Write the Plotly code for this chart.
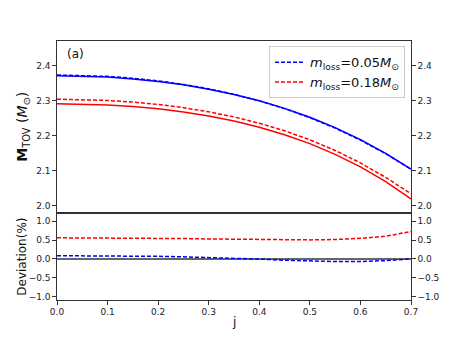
import plotly.graph_objects as go

# spin parameter j
j = [0.0, 0.05, 0.10, 0.15, 0.20, 0.25, 0.30, 0.35, 0.40, 0.45, 0.50, 0.55, 0.60, 0.65, 0.70]

# M_TOV, solid (full) and dashed (with mass loss)
m_blue_solid = [2.372, 2.371, 2.368, 2.3628, 2.3555, 2.3458, 2.3335, 2.3184, 2.3002, 2.2787,
                2.2533, 2.2237, 2.1895, 2.1501, 2.1050]
m_blue_dash = [2.374, 2.373, 2.370, 2.3646, 2.3571, 2.3471, 2.3344, 2.3188, 2.3001, 2.2779,
               2.2520, 2.2221, 2.1880, 2.1491, 2.1050]
m_red_solid = [2.292, 2.2911, 2.2884, 2.2838, 2.2772, 2.2683, 2.2568, 2.2425, 2.2249, 2.2035,
               2.1779, 2.1474, 2.1114, 2.0692, 2.0200]
m_red_dash = [2.3048, 2.3039, 2.3012, 2.2965, 2.2897, 2.2806, 2.2688, 2.2542, 2.2363, 2.2146,
              2.1889, 2.1585, 2.1229, 2.0816, 2.0347]

# deviation in %
dev_blue = [0.085, 0.085, 0.083, 0.078, 0.068, 0.055, 0.038, 0.018, -0.005, -0.035,
            -0.058, -0.070, -0.068, -0.045, 0.0]
dev_red = [0.56, 0.56, 0.56, 0.555, 0.55, 0.54, 0.53, 0.52, 0.51, 0.505,
           0.505, 0.515, 0.545, 0.60, 0.73]

top_ticks = [2.0, 2.1, 2.2, 2.3, 2.4]
bot_ticks = [-1.0, -0.5, 0.0, 0.5, 1.0]
bot_labels = ["\u22121.0", "\u22120.5", "0.0", "0.5", "1.0"]
x_ticks = [0.0, 0.1, 0.2, 0.3, 0.4, 0.5, 0.6, 0.7]

BLUE = "#0000ff"
RED = "#ff0000"
DASH = "4px,2px"
lbl_blue = "<i>m</i><sub>loss</sub>=0.05<i>M</i><sub>\u2299</sub>"
lbl_red = "<i>m</i><sub>loss</sub>=0.18<i>M</i><sub>\u2299</sub>"

fig = go.Figure()

# top panel
fig.add_trace(go.Scatter(x=j, y=m_blue_solid, mode="lines", line=dict(color=BLUE, width=1.5),
                         showlegend=False, xaxis="x", yaxis="y"))
fig.add_trace(go.Scatter(x=j, y=m_red_solid, mode="lines", line=dict(color=RED, width=1.5),
                         showlegend=False, xaxis="x", yaxis="y"))
fig.add_trace(go.Scatter(x=j, y=m_blue_dash, mode="lines", line=dict(color=BLUE, width=1.5, dash=DASH),
                         name=lbl_blue, xaxis="x", yaxis="y"))
fig.add_trace(go.Scatter(x=j, y=m_red_dash, mode="lines", line=dict(color=RED, width=1.5, dash=DASH),
                         name=lbl_red, xaxis="x", yaxis="y"))
# invisible trace so the right-hand axis gets drawn
fig.add_trace(go.Scatter(x=j, y=m_blue_solid, mode="lines", line=dict(width=0), opacity=0,
                         showlegend=False, hoverinfo="skip", xaxis="x", yaxis="y2"))

# bottom panel
fig.add_trace(go.Scatter(x=j, y=dev_red, mode="lines", line=dict(color=RED, width=1.5, dash=DASH),
                         showlegend=False, xaxis="x2", yaxis="y3"))
fig.add_trace(go.Scatter(x=j, y=dev_blue, mode="lines", line=dict(color=BLUE, width=1.5, dash=DASH),
                         showlegend=False, xaxis="x2", yaxis="y3"))
fig.add_trace(go.Scatter(x=j, y=dev_blue, mode="lines", line=dict(width=0), opacity=0,
                         showlegend=False, hoverinfo="skip", xaxis="x2", yaxis="y4"))

# zero line in the deviation panel
fig.add_shape(type="line", xref="x2 domain", yref="y3", x0=0, x1=1, y0=0, y1=0,
              line=dict(color="#333333", width=1.5), layer="below")

split = 0.3347
axcol = "#333333"
tickfont = dict(size=9, color="#222222")

yax = dict(showgrid=False, zeroline=False, showline=True, linecolor=axcol, linewidth=1.2,
           ticks="outside", ticklen=3.5, tickwidth=1, tickcolor=axcol, tickfont=tickfont)

# page body has an 8px margin, so the figure is drawn 8px in from the corner
fig.update_layout(
    width=449, height=335, autosize=False,
    margin=dict(l=49, r=46, t=33, b=43),
    plot_bgcolor="white", paper_bgcolor="white",
    font=dict(family="DejaVu Sans", color="#111111"),
    xaxis=dict(domain=[0, 1], anchor="y", range=[0, 0.7], showgrid=False, zeroline=False,
               showline=True, mirror=True, linecolor=axcol, linewidth=1.2,
               showticklabels=False, ticks=""),
    xaxis2=dict(domain=[0, 1], anchor="y3", range=[0, 0.7], showgrid=False, zeroline=False,
                showline=True, mirror=True, linecolor=axcol, linewidth=1.2,
                tickvals=x_ticks, ticktext=[f"{v:.1f}" for v in x_ticks],
                ticks="outside", ticklen=3.5, tickwidth=1, tickcolor=axcol, tickfont=tickfont),
    yaxis=dict(domain=[split, 1], anchor="x", range=[1.979, 2.471], side="left",
               tickvals=top_ticks, ticktext=[f"{v:.1f}" for v in top_ticks], **yax),
    yaxis2=dict(overlaying="y", anchor="x", range=[1.979, 2.471], side="right",
                tickvals=top_ticks, ticktext=[f"{v:.1f}" for v in top_ticks], **yax),
    yaxis3=dict(domain=[0, split], anchor="x2", range=[-1.09, 1.21], side="left",
                tickvals=bot_ticks, ticktext=bot_labels, **yax),
    yaxis4=dict(overlaying="y3", anchor="x2", range=[-1.09, 1.21], side="right",
                tickvals=bot_ticks, ticktext=bot_labels, **yax),
    legend=dict(x=0.983, y=0.98, xanchor="right", yanchor="top",
                bgcolor="rgba(255,255,255,0.9)", bordercolor="#cccccc", borderwidth=1,
                font=dict(size=13, family="DejaVu Sans"), tracegroupgap=0,
                itemwidth=30),
    showlegend=True,
)

fig.add_annotation(text="(a)", xref="paper", yref="paper", x=0.053, y=0.95,
                   xanchor="center", yanchor="middle", showarrow=False, font=dict(size=12))
fig.add_annotation(text="<b>M</b><sub>TOV</sub> (<i>M</i><sub>\u2299</sub>)", xref="paper", yref="paper",
                   x=-0.097, y=0.668, xanchor="center", yanchor="middle",
                   textangle=-90, showarrow=False, font=dict(size=14))
fig.add_annotation(text="Deviation(%)", xref="paper", yref="paper",
                   x=-0.099, y=0.167, xanchor="center", yanchor="middle",
                   textangle=-90, showarrow=False, font=dict(size=12))
fig.add_annotation(text="j", xref="paper", yref="paper",
                   x=0.5, y=-0.085, xanchor="center", yanchor="middle",
                   showarrow=False, font=dict(size=12))

fig.write_html("out.html")
